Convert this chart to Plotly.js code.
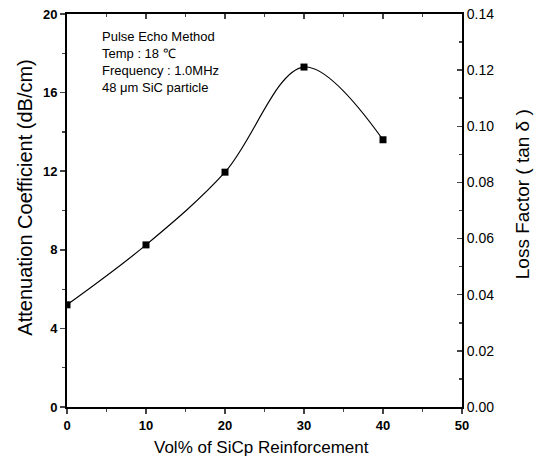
<!DOCTYPE html>
<html><head><meta charset="utf-8">
<script src="https://cdn.plot.ly/plotly-3.0.1.min.js"></script>
<style>body{margin:0;background:#fff}#c{width:538px;height:464px}</style>
</head><body><div id="c"></div>
<script>
var volPct = [0, 10, 20, 30, 40];
var attenuation = [5.2, 8.25, 11.95, 17.3, 13.6];
var noteLines = ["Pulse Echo Method", "Temp : 18 \u2103", "Frequency : 1.0MHz", "48 \u03bcm SiC particle"];
var xTitle = "Vol% of SiCp Reinforcement";
var yTitle = "Attenuation Coefficient (dB/cm)";
var y2Title = "Loss Factor ( tan \u03b4 )";

var fam = "Liberation Sans, Arial, sans-serif";
var traces = [
  {x: volPct, y: attenuation, type: "scatter", mode: "lines+markers",
   line: {shape: "spline", smoothing: 1, color: "#000", width: 1.2},
   marker: {symbol: "square", size: 7, color: "#000"}, showlegend: false},
  {x: [0], y: [0], yaxis: "y2", type: "scatter", mode: "markers", marker: {opacity: 0}, showlegend: false, hoverinfo: "skip"},
  {x: [0], y: [0], xaxis: "x2", type: "scatter", mode: "markers", marker: {opacity: 0}, showlegend: false, hoverinfo: "skip"}
];
var layout = {
  width: 538, height: 464,
  margin: {l: 67, r: 76, t: 14, b: 57},
  paper_bgcolor: "#fff", plot_bgcolor: "#fff",
  font: {family: fam, color: "#000"},
  xaxis: {range: [0, 50], dtick: 10, ticks: "outside", ticklen: 5, tickwidth: 1.5,
    minor: {dtick: 5, ticks: "outside", ticklen: 3, tickwidth: 1.2},
    showline: true, linewidth: 2, linecolor: "#000", showgrid: false, zeroline: false,
    tickfont: {size: 13, family: fam, weight: "bold"}},
  xaxis2: {range: [0, 50], dtick: 10, overlaying: "x", side: "top", ticks: "inside", ticklen: 5, tickwidth: 1.5,
    minor: {dtick: 5, ticks: "inside", ticklen: 3, tickwidth: 1.2},
    showline: true, linewidth: 2, linecolor: "#000", showgrid: false, zeroline: false, showticklabels: false},
  yaxis: {range: [0, 20], dtick: 4, ticks: "outside", ticklen: 5, tickwidth: 1.5,
    minor: {dtick: 2, ticks: "outside", ticklen: 3, tickwidth: 1.2},
    showline: true, linewidth: 2, linecolor: "#000", showgrid: false, zeroline: false,
    tickfont: {size: 13, family: fam, weight: "bold"}},
  yaxis2: {range: [0, 0.14], dtick: 0.02, tickformat: ".2f", overlaying: "y", side: "right",
    ticks: "inside", ticklen: 5, tickwidth: 1.5, minor: {dtick: 0.01, ticks: "inside", ticklen: 3},
    showline: true, linewidth: 2, linecolor: "#000", showgrid: false, zeroline: false,
    tickfont: {size: 14, family: fam}},
  annotations: [
    {xref: "paper", yref: "paper", x: 0.083, y: 0.968, xanchor: "left", yanchor: "top", align: "left",
     showarrow: false, text: noteLines.join("<br>"), font: {size: 13, family: fam}},
    {xref: "paper", yref: "paper", x: 0.492, y: -0.102, xanchor: "center", yanchor: "middle",
     showarrow: false, text: xTitle, font: {size: 17, family: fam}},
    {xref: "paper", yref: "paper", x: -0.107, y: 0.532, xanchor: "center", yanchor: "middle", textangle: -90,
     showarrow: false, text: yTitle, font: {size: 20, family: fam}},
    {xref: "paper", yref: "paper", x: 1.155, y: 0.542, xanchor: "center", yanchor: "middle", textangle: -90,
     showarrow: false, text: y2Title, font: {size: 19, family: fam}}
  ]
};
Plotly.newPlot("c", traces, layout, {displayModeBar: false, staticPlot: true});
</script></body></html>
